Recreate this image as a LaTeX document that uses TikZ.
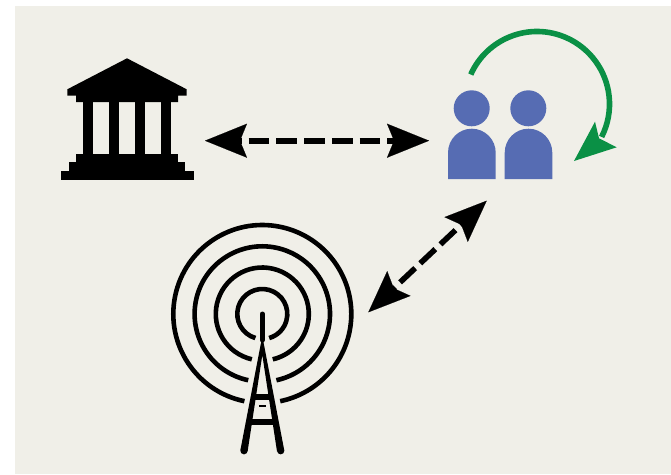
\documentclass[tikz,border=0pt]{standalone}
\usetikzlibrary{arrows.meta}
\definecolor{paper}{HTML}{F0EFE8}
\definecolor{userblue}{HTML}{566CB3}
\definecolor{loopgreen}{HTML}{0A9045}
\tikzset{
  bigtip/.tip={Stealth[length=42pt,width=34pt,inset=7pt]},
  dashlink/.style={line width=5.6pt,draw=black,dash pattern=on 20.7pt off 7pt,shorten >=16pt,shorten <=16pt},
  tiplink/.style={line width=0.1pt,draw=black,dash pattern=on 0pt off 2000pt,{bigtip}-{bigtip}},
  ring/.style={line width=4.6pt,draw=black},
  towerbar/.style={line width=6pt,draw=black},
  person/.style={fill=userblue},
}
\begin{document}
\begin{tikzpicture}[x=1pt,y=-1pt]
\useasboundingbox (0,0) rectangle (671,474);
\fill[paper] (15,6) rectangle (671,474);
% temple
\fill (127,58.3) -- (186.7,89.3) -- (186.7,95.7) -- (178,95.7) -- (178,102) -- (76,102) -- (76,95.7) -- (67.3,95.7) -- (67.3,89.3) -- cycle;
\foreach \cx in {83,109,135,161} \fill (\cx,101) rectangle (\cx+10,155);
\fill (76,154) rectangle (178,162.5);
\fill (69,162) rectangle (185,171.5);
\fill (61,171) rectangle (194,180);
% people
\fill[person] (471.7,108.3) circle[radius=18];
\fill[person] (528.3,108.3) circle[radius=18];
\fill[person] (448,179) -- (448,152.7) .. controls (448,139.5) and (458.5,128.7) .. (471.8,128.7) .. controls (485,128.7) and (495.7,139.5) .. (495.7,152.7) -- (495.7,179) -- cycle;
\fill[person] (504.7,179) -- (504.7,152.7) .. controls (504.7,139.5) and (515.2,128.7) .. (528.5,128.7) .. controls (541.7,128.7) and (552.3,139.5) .. (552.3,152.7) -- (552.3,179) -- cycle;
% self loop
\coordinate (loopc) at (537,104);
\draw[loopgreen,line width=5.6pt] (loopc) ++(204:72.5) arc[start angle=204,end angle=387,radius=72.5];
\fill[loopgreen] (574,161) -- (595,121.7) -- (599,138.3) -- (616.7,147.3) -- cycle;
% tower
\coordinate (tc) at (262.3,314);
\draw[ring] (tc) ++(106:25) arc[start angle=106,end angle=434,radius=25];
\draw[ring] (tc) ++(103:46.5) arc[start angle=103,end angle=437,radius=46.5];
\draw[ring] (tc) ++(102:67.7) arc[start angle=102,end angle=438,radius=67.7];
\draw[ring] (tc) ++(101.6:89) arc[start angle=101.6,end angle=438.4,radius=89];
\draw[line width=5pt,line cap=round] (tc) -- ++(0,26);
\fill (262.3,336) -- (240.4,450) -- (247.6,451.4) -- (262.3,355) -- (277,451.4) -- (284.2,450) -- cycle;
\fill (244,450.7) circle[radius=3.65] (280.7,450.7) circle[radius=3.65];
\draw[towerbar] (253,396.7) -- (271.6,396.7);
\draw[towerbar] (250,422.3) -- (274.6,422.3);
\draw[line width=2pt] (259,405.7) -- (266,405.7);
% connectors
\coordinate (templeend) at (205,140.7);
\coordinate (usersendA) at (429,140.7);
\coordinate (usersendB) at (486.7,200.7);
\coordinate (towerend) at (368.3,312.3);
\draw[dashlink] (templeend) -- (usersendA);
\draw[dashlink] (towerend) -- (usersendB);
\draw[tiplink] (templeend) -- (usersendA);
\draw[tiplink] (towerend) -- (usersendB);
\end{tikzpicture}
\end{document}
